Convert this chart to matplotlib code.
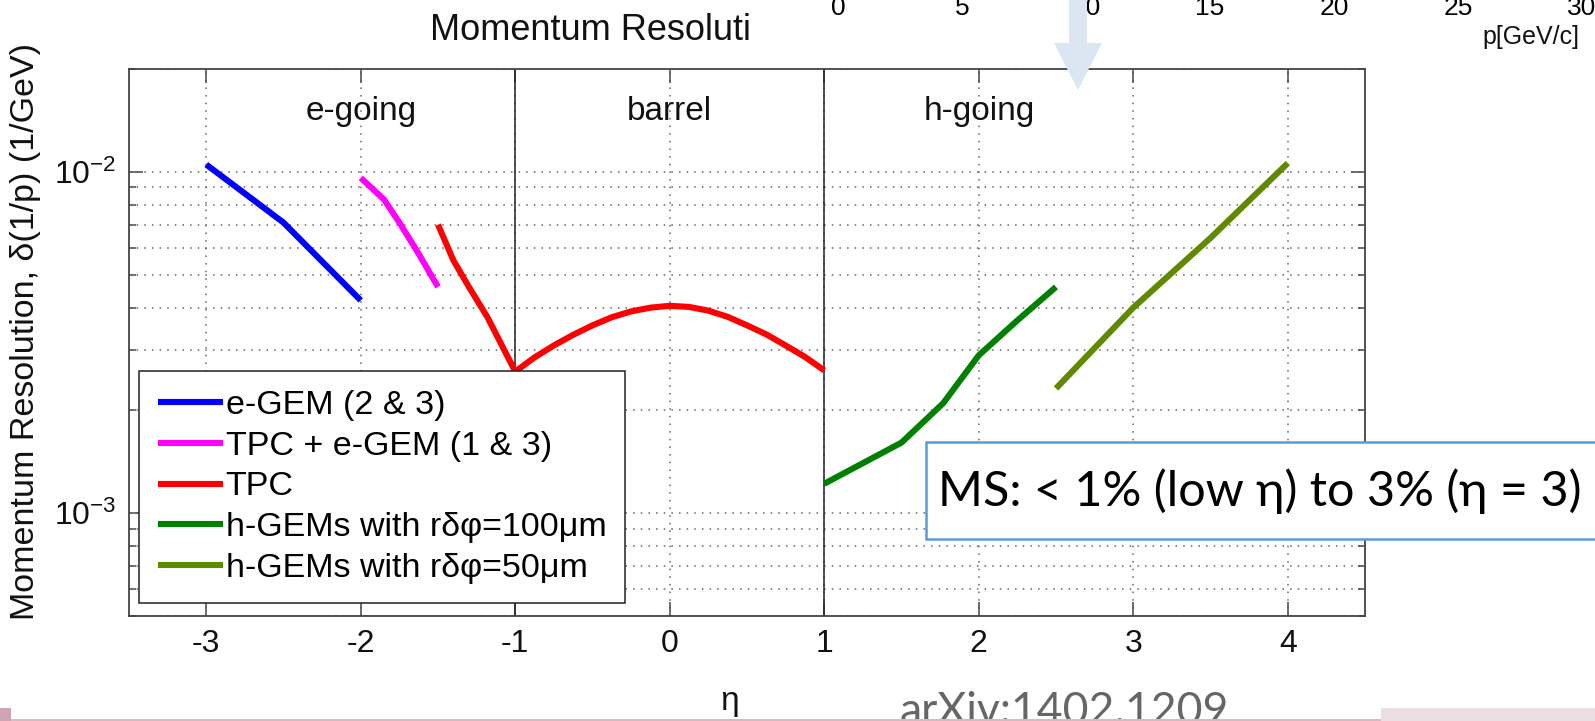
import matplotlib

matplotlib.use("Agg")
import matplotlib.pyplot as plt
from matplotlib.patches import FancyArrow, Rectangle
from matplotlib.ticker import FixedLocator, LogLocator, NullFormatter

plt.rcParams["font.family"] = ["Liberation Sans", "DejaVu Sans"]
plt.rcParams["mathtext.fontset"] = "custom"
plt.rcParams["mathtext.rm"] = "Liberation Sans"
plt.rcParams["mathtext.it"] = "Liberation Sans:italic"
plt.rcParams["axes.unicode_minus"] = False

# ── data ──────────────────────────────────────────────────────────────────────
eta_egem = [-3.0, -2.5, -2.0]
res_egem = [1.05e-2, 7.1e-3, 4.2e-3]

eta_tpc_egem = [-2.0, -1.85, -1.75, -1.63, -1.5]
res_tpc_egem = [9.6e-3, 8.3e-3, 7.1e-3, 5.8e-3, 4.6e-3]

eta_tpc = [-1.5, -1.4, -1.3, -1.18, -1.0, -0.875, -0.75, -0.625, -0.5, -0.375, -0.25,
           -0.125, 0.0, 0.125, 0.25, 0.375, 0.5, 0.625, 0.75, 0.875, 1.0]
res_tpc = [7.0e-3, 5.5e-3, 4.6e-3, 3.75e-3, 2.6e-3, 2.86e-3, 3.1e-3, 3.33e-3, 3.55e-3,
           3.75e-3, 3.9e-3, 4.0e-3, 4.05e-3, 4.02e-3, 3.92e-3, 3.76e-3, 3.55e-3,
           3.34e-3, 3.1e-3, 2.87e-3, 2.62e-3]

eta_h100 = [1.0, 1.5, 1.77, 2.0, 2.25, 2.5]
res_h100 = [1.22e-3, 1.61e-3, 2.1e-3, 2.9e-3, 3.67e-3, 4.6e-3]

eta_h50 = [2.5, 3.0, 3.5, 4.0]
res_h50 = [2.32e-3, 4.0e-3, 6.4e-3, 1.06e-2]

labels = [
    "e-GEM (2 & 3)",
    "TPC + e-GEM (1 & 3)",
    "TPC",
    "h-GEMs with rδφ=100μm",
    "h-GEMs with rδφ=50μm",
]
colors = ["#0000ff", "#ff00ff", "#ff0000", "#008000", "#5f8a00"]

regions = ["e-going", "barrel", "h-going"]
region_bounds = [-1.0, 1.0]

top_ticks = [0, 5, 10, 15, 20, 25, 30]

# ── figure in pixel units ─────────────────────────────────────────────────────
W, H = 1595, 721


def fx(px):
    return px / W


def fy(py):
    return 1 - py / H


fig = plt.figure(figsize=(W / 100, H / 100), dpi=100)
fig.patch.set_facecolor("white")

ax = fig.add_axes([fx(129), fy(616), fx(1365) - fx(129), fy(69) - fy(616)])
ax.set_yscale("log")
ax.set_xlim(-3.5, 4.5)
ax.set_ylim(5e-4, 2e-2)

series = [
    (eta_egem, res_egem),
    (eta_tpc_egem, res_tpc_egem),
    (eta_tpc, res_tpc),
    (eta_h100, res_h100),
    (eta_h50, res_h50),
]
for (xs, ys), lab, col in zip(series, labels, colors):
    ax.plot(xs, ys, color=col, lw=4.4, label=lab, solid_capstyle="butt",
            solid_joinstyle="round", zorder=3)

for b in region_bounds:
    ax.axvline(b, color="#222222", lw=1.1, zorder=2)

for name, xc in zip(regions, [-2.0, 0.0, 2.0]):
    ax.text(xc, 1.5e-2, name, ha="center", va="center", fontsize=24, color="#111111")

# MATLAB-ish dotted grid
ax.xaxis.set_major_locator(FixedLocator(range(-3, 5)))
ax.yaxis.set_major_locator(LogLocator(base=10))
ax.yaxis.set_minor_locator(LogLocator(base=10, subs=range(2, 10)))
ax.yaxis.set_minor_formatter(NullFormatter())
ax.grid(True, which="major", axis="x", ls=(0, (1, 4)), color="#666666", lw=1.1)
ax.grid(True, which="both", axis="y", ls=(0, (1, 4)), color="#666666", lw=1.1)

ax.tick_params(which="both", direction="in", top=True, right=True, colors="#555555",
               labelcolor="#111111", labelsize=23)
ax.tick_params(which="major", length=10, width=1.2, pad=9)
ax.tick_params(which="minor", length=5, width=1.2)
for s in ax.spines.values():
    s.set_color("#444444")
    s.set_linewidth(1.3)

ax.set_ylabel("Momentum Resolution, δ(1/p) (1/GeV)", fontsize=24.5, color="#111111")
ax.yaxis.set_label_coords(-0.071, 0.52)
ax.set_xlabel("η", fontsize=24, color="#111111")
ax.xaxis.set_label_coords(0.486, -0.157)
ax.xaxis.label.set_va("center")

leg = ax.legend(
    loc="lower left",
    bbox_to_anchor=(0.008, 0.024),
    borderaxespad=0,
    fontsize=24.5,
    handlelength=1.92,
    handletextpad=0.08,
    labelspacing=0.29,
    borderpad=0.55,
    fancybox=False,
    framealpha=1,
    edgecolor="#222222",
)
leg.get_frame().set_linewidth(1.1)
leg.set_zorder(5)

# ── slide decorations ─────────────────────────────────────────────────────────
fig.text(fx(430), fy(30), "Momentum Resoluti", ha="left", va="center", fontsize=26,
         color="#111111")

# cut-off axis of another plot at the top right
ax_p = fig.add_axes([fx(838), fy(-4), fx(1582) - fx(838), 0.0001])
ax_p.set_xlim(0, 30)
ax_p.set_xticks(top_ticks)
ax_p.set_yticks([])
ax_p.tick_params(axis="x", length=0, pad=0, labelsize=19)
for s in ax_p.spines.values():
    s.set_visible(False)
ax_p.patch.set_alpha(0)
fig.text(fx(1579), fy(37), "p[GeV/c]", ha="right", va="center", fontsize=18,
         color="#111111")

# light blue arrow
fig.add_artist(
    FancyArrow(
        fx(1078), 1.02, 0, -(0.02 + 90 / H),
        width=18 / W, head_width=48 / W, head_length=47 / H,
        length_includes_head=True, transform=fig.transFigure,
        color="#dce6f2", lw=0, zorder=10,
    )
)

# MS box
fig.add_artist(
    Rectangle((fx(926), fy(539)), 1.0, fy(442) - fy(539), transform=fig.transFigure,
              facecolor="white", edgecolor="#5b9bd5", lw=1.8, zorder=10)
)
fig.text(fx(938), fy(491), "MS: < 1% (low η) to 3% (η = 3)", ha="left", va="center",
         fontsize=34.9, family=["Lato", "DejaVu Sans"], color="black", zorder=11)

fig.text(fx(900), fy(724), "arXiv:1402.1209", ha="left", va="baseline", fontsize=32,
         family=["Lato", "DejaVu Sans"], color="#666666", zorder=11)

# bottom bar of the slide
fig.add_artist(Rectangle((0, 0), 1, 2 / H, transform=fig.transFigure,
                         facecolor="#dcb8c2", lw=0, zorder=12))
fig.add_artist(Rectangle((0, 0), fx(11), 13 / H, transform=fig.transFigure,
                         facecolor="#d2a3b0", lw=0, zorder=12))
fig.add_artist(Rectangle((fx(1381), 0), 1, 13 / H, transform=fig.transFigure,
                         facecolor="#ecdfe3", lw=0, zorder=12))

fig.savefig("out.png", dpi=100, facecolor="white")
